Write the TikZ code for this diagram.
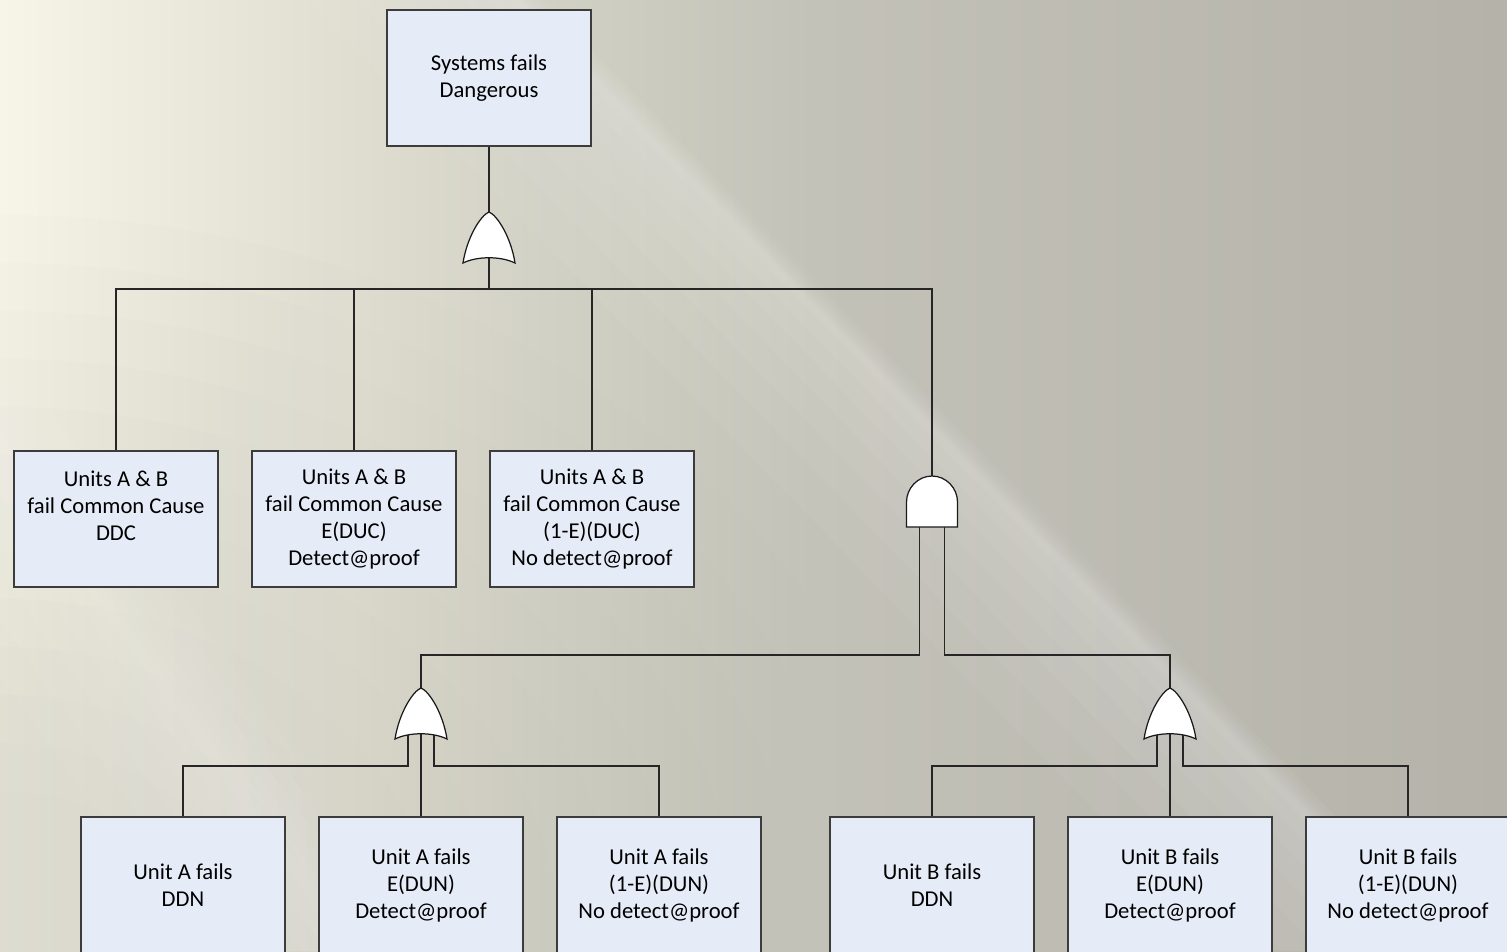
\documentclass[tikz,border=0pt]{standalone}
\usepackage{fontspec}
\setmainfont{Carlito}
\usetikzlibrary{calc}
\definecolor{ftbga}{HTML}{F7F5E7}
\definecolor{ftbgb}{HTML}{E7E5D7}
\definecolor{ftbgc}{HTML}{D4D3C7}
\definecolor{ftbgd}{HTML}{C3C2B8}
\definecolor{ftbge}{HTML}{B4B2A9}
\definecolor{ftbox}{HTML}{E6ECF7}
\definecolor{ftedge}{HTML}{3C3C3C}
\pgfdeclarehorizontalshading{ftbackdrop}{100bp}{color(0bp)=(ftbga); color(25bp)=(ftbga);
  color(33bp)=(ftbgb); color(42bp)=(ftbgc); color(52bp)=(ftbgd); color(75bp)=(ftbge); color(100bp)=(ftbge)}

\tikzset{
  evbox/.style={draw=ftedge,fill=ftbox,line width=0.7pt,minimum width=4.08cm,minimum height=2.72cm,
    inner sep=0pt,align=center,font=\fontsize{12.9}{15.4}\selectfont},
  wire/.style={draw=black!85,line width=0.6pt},
  gateshape/.style={draw=black!90,fill=white,line width=0.7pt},
  orgate/.pic={
    \coordinate (-o) at (0,0);
    \coordinate (-i) at (0,46);
    \coordinate (-l) at (-13,47);
    \coordinate (-r) at (13,47);
    \path[gateshape] (0,0) .. controls (8,3) and (22,25) .. (26,51)
      .. controls (12,44) and (-12,44) .. (-26,51)
      .. controls (-22,25) and (-8,3) .. cycle;
  },
  andgate/.pic={
    \coordinate (-o) at (0,0);
    \coordinate (-l) at (-12.5,51);
    \coordinate (-r) at (12.5,51);
    \path[gateshape] (-25.5,51) -- (-25.5,26) .. controls (-25.5,12) and (-14,0) .. (0,0)
      .. controls (14,0) and (25.5,12) .. (25.5,26) -- (25.5,51) -- cycle;
  }
}

\begin{document}
\begin{tikzpicture}[x=0.02cm,y=-0.02cm]
  % background
  \useasboundingbox (0,0) rectangle (1507,951);
  \clip (0,0) rectangle (1507,951);
  \fill[shading=ftbackdrop] (0,0) rectangle (1507,951);
  \foreach \r in {200,260,...,920}
    \fill[ftbgd,fill opacity=0.035] (0,951) ellipse ({\r} and {0.8*\r});
  \foreach \w in {10,30,55,85,120,160,210}
    \fill[white,fill opacity=0.045] (518-\w,0) -- (518+0.12*\w,0) -- (1441+0.12*\w,951) -- (1441-\w,951) -- cycle;
  \foreach \w in {10,30,55,85,120,160}
    \fill[white,fill opacity=0.045] (-323-\w,0) -- (-323+0.5*\w,0) -- (356+0.5*\w,951) -- (356-\w,951) -- cycle;

  % top event
  \node[evbox] (top) at (489,78) {Systems fails\\Dangerous};

  % common cause events
  \node[evbox] (ccddc) at (116,519) {Units A \& B\\fail Common Cause\\DDC\\\mbox{}};
  \node[evbox] (ccduc) at (354,519) {Units A \& B\\fail Common Cause\\E(DUC)\\Detect@proof};
  \node[evbox] (ccnduc) at (592,519) {Units A \& B\\fail Common Cause\\(1-E)(DUC)\\No detect@proof};

  % unit A events
  \node[evbox] (uaddn) at (183,885) {Unit A fails\\DDN};
  \node[evbox] (uadun) at (421,885) {Unit A fails\\E(DUN)\\Detect@proof};
  \node[evbox] (uandun) at (659,885) {Unit A fails\\(1-E)(DUN)\\No detect@proof};

  % unit B events
  \node[evbox] (ubddn) at (932,885) {Unit B fails\\DDN};
  \node[evbox] (ubdun) at (1170,885) {Unit B fails\\E(DUN)\\Detect@proof};
  \node[evbox] (ubndun) at (1408,885) {Unit B fails\\(1-E)(DUN)\\No detect@proof};

  % gate positions
  \coordinate (or1pos) at (489,212);
  \coordinate (and1pos) at (932,476);
  \coordinate (or2pos) at (421,688);
  \coordinate (or3pos) at (1170,688);
  \coordinate (bar1) at (489,289);

  % connectors
  \draw[wire] (top.south) -- (or1pos);
  \draw[wire] ($(or1pos)+(0,46)$) -- (bar1);
  \draw[wire] (ccddc.north) |- (bar1);
  \draw[wire] (ccduc.north) |- (bar1);
  \draw[wire] (ccnduc.north) |- (bar1);
  \draw[wire] (and1pos) |- (bar1);
  \draw[wire] ($(and1pos)+(-12.5,51)$) -- ++(0,128) -| (or2pos);
  \draw[wire] ($(and1pos)+(12.5,51)$) -- ++(0,128) -| (or3pos);
  \draw[wire] ($(or2pos)+(-13,47)$) -- ++(0,31) -| (uaddn.north);
  \draw[wire] ($(or2pos)+(0,46)$) -- (uadun.north);
  \draw[wire] ($(or2pos)+(13,47)$) -- ++(0,31) -| (uandun.north);
  \draw[wire] ($(or3pos)+(-13,47)$) -- ++(0,31) -| (ubddn.north);
  \draw[wire] ($(or3pos)+(0,46)$) -- (ubdun.north);
  \draw[wire] ($(or3pos)+(13,47)$) -- ++(0,31) -| (ubndun.north);

  % gates
  \pic (or1) at (or1pos) {orgate};
  \pic (and1) at (and1pos) {andgate};
  \pic (or2) at (or2pos) {orgate};
  \pic (or3) at (or3pos) {orgate};
\end{tikzpicture}
\end{document}
